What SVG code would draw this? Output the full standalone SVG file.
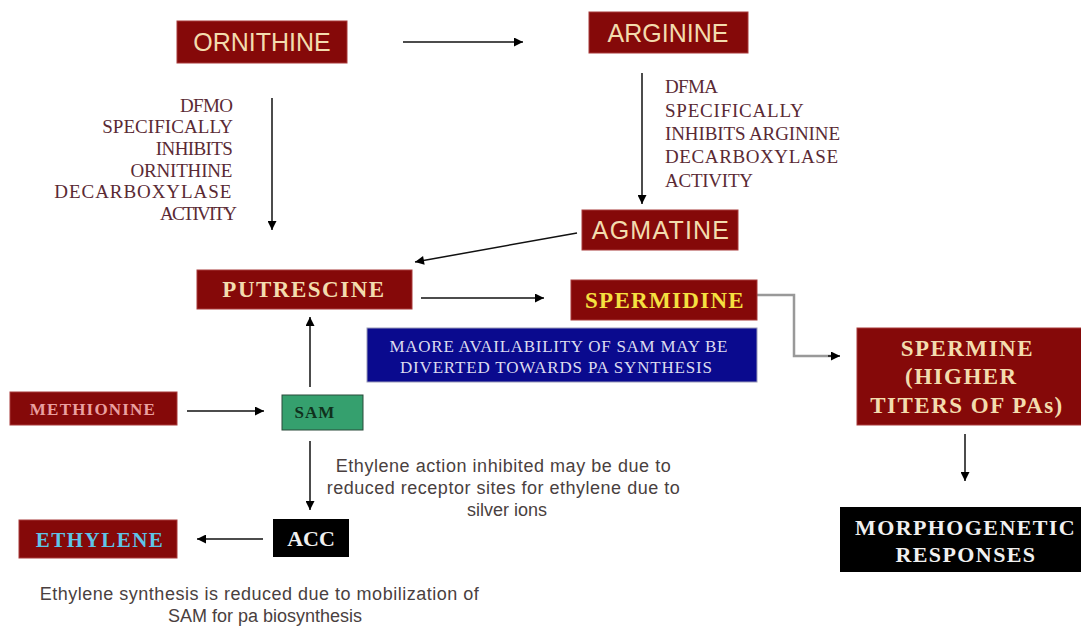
<svg xmlns="http://www.w3.org/2000/svg" width="1081" height="628" viewBox="0 0 1081 628">
<defs>
<marker id="ah" viewBox="0 0 10 10" refX="10" refY="5" markerWidth="10" markerHeight="9" markerUnits="userSpaceOnUse" orient="auto">
<path d="M0,0 L10,5 L0,10 z" fill="#000"/>
</marker>
<style>
.red{fill:#850909;stroke:#a83a3a;stroke-width:1}
.sans{font-family:"Liberation Sans",Arial,sans-serif}
.serif{font-family:"Liberation Serif","Times New Roman",serif}
.lbl{font-size:25px;fill:#f3dcae;text-anchor:middle}
.bold{font-weight:bold;text-anchor:middle}
.note{font-size:19px;fill:#5a2a34}
.gray{font-size:18px;fill:#4a3f40;text-anchor:middle}
.conn{stroke:#111;stroke-width:1.5;fill:none;marker-end:url(#ah)}
</style>
</defs>
<rect width="1081" height="628" fill="#fff"/>

<g id="connectors">
<line class="conn" x1="403" y1="42" x2="523" y2="42"/>
<line class="conn" x1="272" y1="98" x2="272" y2="230"/>
<line class="conn" x1="642" y1="73" x2="642" y2="204"/>
<line class="conn" x1="577" y1="233" x2="415" y2="262"/>
<line class="conn" x1="421" y1="298" x2="544" y2="298"/>
<polyline points="757,295 794,295 794,356 838,356" fill="none" stroke="#999" stroke-width="2.5"/>
<line x1="828" y1="356" x2="840" y2="356" stroke="#111" stroke-width="1.5" marker-end="url(#ah)"/>
<line class="conn" x1="965" y1="434" x2="965" y2="481"/>
<line class="conn" x1="187" y1="411" x2="264" y2="411"/>
<line class="conn" x1="310" y1="387" x2="310" y2="317"/>
<line class="conn" x1="310" y1="441" x2="310" y2="510"/>
<line class="conn" x1="263" y1="539" x2="197" y2="539"/>
</g>

<g id="ornithine">
<rect class="red" x="177" y="21" width="170" height="42"/>
<text class="sans lbl" x="262" y="51">ORNITHINE</text>
</g>
<g id="arginine">
<rect class="red" x="589" y="12" width="159" height="41"/>
<text class="sans lbl" x="668" y="42">ARGININE</text>
</g>
<g id="dfmo-note">
<text class="serif note" text-anchor="end">
<tspan x="237" y="112" textLength="53">DFMO</tspan>
<tspan x="237" y="133" textLength="130">SPECIFICALLY</tspan>
<tspan x="237" y="155" textLength="77">INHIBITS</tspan>
<tspan x="237" y="177" textLength="102">ORNITHINE</tspan>
<tspan x="237" y="198" textLength="177">DECARBOXYLASE</tspan>
<tspan x="237" y="220" textLength="77">ACTIVITY</tspan>
</text>
</g>
<g id="dfma-note">
<text class="serif note">
<tspan x="665" y="93" textLength="52">DFMA</tspan>
<tspan x="665" y="117" textLength="138">SPECIFICALLY</tspan>
<tspan x="665" y="140" textLength="175">INHIBITS ARGININE</tspan>
<tspan x="665" y="163" textLength="173">DECARBOXYLASE</tspan>
<tspan x="665" y="187" textLength="88">ACTIVITY</tspan>
</text>
</g>
<g id="agmatine">
<rect class="red" x="582" y="210" width="156" height="40"/>
<text class="sans lbl" x="661" y="239" letter-spacing="1.2">AGMATINE</text>
</g>
<g id="putrescine">
<rect class="red" x="197" y="270" width="215" height="39"/>
<text class="serif bold" x="304" y="297" font-size="23" fill="#f3dcae" letter-spacing="1.5">PUTRESCINE</text>
</g>
<g id="spermidine">
<rect class="red" x="571" y="280" width="186" height="40"/>
<text class="serif bold" x="665" y="308" font-size="23" fill="#f5e040" letter-spacing="1.3">SPERMIDINE</text>
</g>
<g id="sam-note">
<rect x="367" y="328" width="390" height="54" fill="#0a0a8e" stroke="#9a9ab8" stroke-width="1"/>
<text class="serif" font-size="17" fill="#dcdcf0" text-anchor="middle">
<tspan x="561" y="352" textLength="338">MAORE  AVAILABILITY OF SAM MAY BE</tspan>
<tspan x="556" y="373" textLength="312">DIVERTED TOWARDS PA SYNTHESIS</tspan>
</text>
</g>
<g id="spermine">
<rect class="red" x="857" y="328" width="226" height="97"/>
<text class="serif bold" font-size="23" fill="#f3dcae" letter-spacing="1.5">
<tspan x="971" y="356">SPERMINE</tspan>
<tspan x="965" y="384">(HIGHER</tspan>
<tspan x="967" y="413">TITERS OF PAs)</tspan>
</text>
</g>
<g id="morphogenetic">
<rect x="840" y="507" width="243" height="65" fill="#000"/>
<text class="serif bold" font-size="22" fill="#f0f0f0" letter-spacing="1.4">
<tspan x="969" y="535">MORPHOGENETIC</tspan>
<tspan x="966" y="562">RESPONSES</tspan>
</text>
</g>
<g id="methionine">
<rect class="red" x="10" y="392" width="167" height="33"/>
<text class="serif bold" x="93" y="415" font-size="17" fill="#eaa0a0" letter-spacing="1.2">METHIONINE</text>
</g>
<g id="sam">
<rect x="282" y="395" width="81" height="35" fill="#35a06e" stroke="#2a4a3a" stroke-width="1"/>
<text class="serif" x="315" y="418" font-size="17" font-weight="bold" fill="#10301c" text-anchor="middle" letter-spacing="1">SAM</text>
</g>
<g id="ethylene-note">
<text class="sans gray">
<tspan x="506" y="472" textLength="335">Ethylene action inhibited may be due to</tspan>
<tspan x="506" y="494" textLength="353">reduced receptor sites for ethylene due to</tspan>
<tspan x="507" y="516">silver ions</tspan>
</text>
</g>
<g id="acc">
<rect x="273" y="519" width="76" height="38" fill="#000"/>
<text class="serif bold" x="311" y="546" font-size="22" fill="#f0f0f0">ACC</text>
</g>
<g id="ethylene">
<rect class="red" x="19" y="520" width="158" height="38"/>
<text class="serif bold" x="100" y="547" font-size="21" fill="#5ec4e8" letter-spacing="1.5">ETHYLENE</text>
</g>
<g id="synthesis-note">
<text class="sans gray">
<tspan x="262" y="600" textLength="439">Ethylene synthesis is reduced due to mobilization of</tspan>
<tspan x="265" y="622">SAM for pa biosynthesis</tspan>
</text>
</g>
</svg>
